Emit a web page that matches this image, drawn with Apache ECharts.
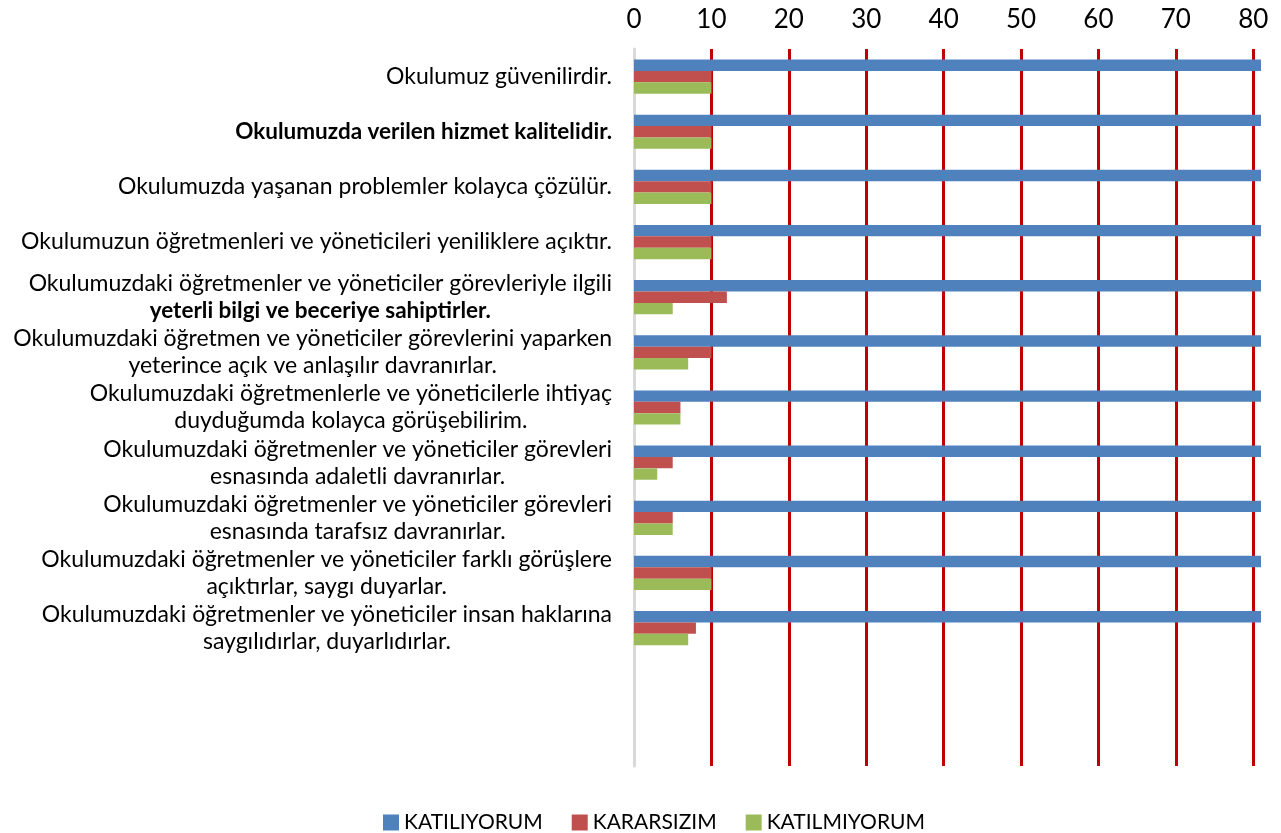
<!DOCTYPE html>
<html>
<head>
<meta charset="utf-8">
<script src="https://cdn.jsdelivr.net/npm/echarts@6/dist/echarts.min.js"></script>
<style>
html,body{margin:0;padding:0;background:#fff;}
#chart{width:1281px;height:833px;}
</style>
</head>
<body>
<div id="chart"></div>
<script>
const categories = [
  "Okulumuz güvenilirdir.",
  "Okulumuzda verilen hizmet kalitelidir.",
  "Okulumuzda yaşanan problemler kolayca çözülür.",
  "Okulumuzun öğretmenleri ve yöneticileri yeniliklere açıktır.",
  "Okulumuzdaki öğretmenler ve yöneticiler görevleriyle ilgili\nyeterli bilgi ve beceriye sahiptirler.",
  "Okulumuzdaki öğretmen ve yöneticiler görevlerini yaparken\nyeterince açık ve anlaşılır davranırlar.",
  "Okulumuzdaki öğretmenlerle ve yöneticilerle ihtiyaç\nduyduğumda kolayca görüşebilirim.",
  "Okulumuzdaki öğretmenler ve yöneticiler görevleri\nesnasında adaletli davranırlar.",
  "Okulumuzdaki öğretmenler ve yöneticiler görevleri\nesnasında tarafsız davranırlar.",
  "Okulumuzdaki öğretmenler ve yöneticiler farklı görüşlere\naçıktırlar, saygı duyarlar.",
  "Okulumuzdaki öğretmenler ve yöneticiler insan haklarına\nsaygılıdırlar, duyarlıdırlar."
];
const seriesNames = ["KATILIYORUM", "KARARSIZIM", "KATILMIYORUM"];
const katiliyorum = [82, 82, 82, 82, 83, 83, 88, 92, 90, 82, 85];
const kararsizim = [10, 10, 10, 10, 12, 10, 6, 5, 5, 10, 8];
const katilmiyorum = [10, 10, 10, 10, 5, 7, 6, 3, 5, 10, 7];
const xTicks = [0, 10, 20, 30, 40, 50, 60, 70, 80];

const FONT = 'Lato, "Open Sans", sans-serif';
const chart = echarts.init(document.getElementById('chart'), null, {renderer: 'canvas'});
const colors = ['#4F81BD', '#C0504D', '#9BBB59'];
const values = [katiliyorum, kararsizim, katilmiyorum];

chart.setOption({
  animation: false,
  color: colors,
  grid: {left: 634, right: 20, top: 49, bottom: 67, containLabel: false},
  xAxis: {
    type: 'value',
    position: 'top',
    min: 0,
    max: 81,
    interval: 10,
    axisLine: {show: false},
    axisTick: {show: false},
    axisLabel: {
      showMaxLabel: false,
      fontSize: 26,
      fontFamily: FONT,
      color: '#000',
      margin: 16,
      formatter: function (v) { return xTicks.indexOf(v) >= 0 ? String(v) : ''; }
    },
    splitLine: {show: true, showMinLine: false, showMaxLine: false, lineStyle: {color: '#C00000', width: 3}}
  },
  yAxis: {
    type: 'category',
    inverse: true,
    data: categories,
    max: 12,
    axisTick: {show: false},
    axisLine: {show: true, lineStyle: {color: '#D9D9D9', width: 3}},
    axisLabel: {
      interval: 0,
      margin: 22,
      formatter: function (v, i) {
        const t = categories[i];
        if (!t) return '';
        return t.split('\n').map(function (line, k) {
          const bold = (i === 1) || (i === 4 && k === 1);
          return '{' + (bold ? 'b' : 'c') + '|' + line + '}';
        }).join('\n');
      },
      rich: {
        c: {align: 'center', fontSize: 23, fontFamily: FONT, color: '#000', lineHeight: 27},
        b: {align: 'center', fontSize: 22.5, fontFamily: FONT, color: '#000', fontWeight: 'bold', lineHeight: 27}
      }
    }
  },
  legend: {
    data: seriesNames,
    left: 378,
    top: 807,
    icon: 'rect',
    itemWidth: 16,
    itemHeight: 16,
    itemGap: 29,
    textStyle: {fontSize: 21, fontFamily: FONT, color: '#000'}
  },
  series: seriesNames.map(function (name, s) {
    return {
      name: name,
      type: 'bar',
      data: values[s],
      barGap: '0%',
      barCategoryGap: '38%',
      clip: true,
      itemStyle: {color: colors[s]}
    };
  })
});
</script>
</body>
</html>
